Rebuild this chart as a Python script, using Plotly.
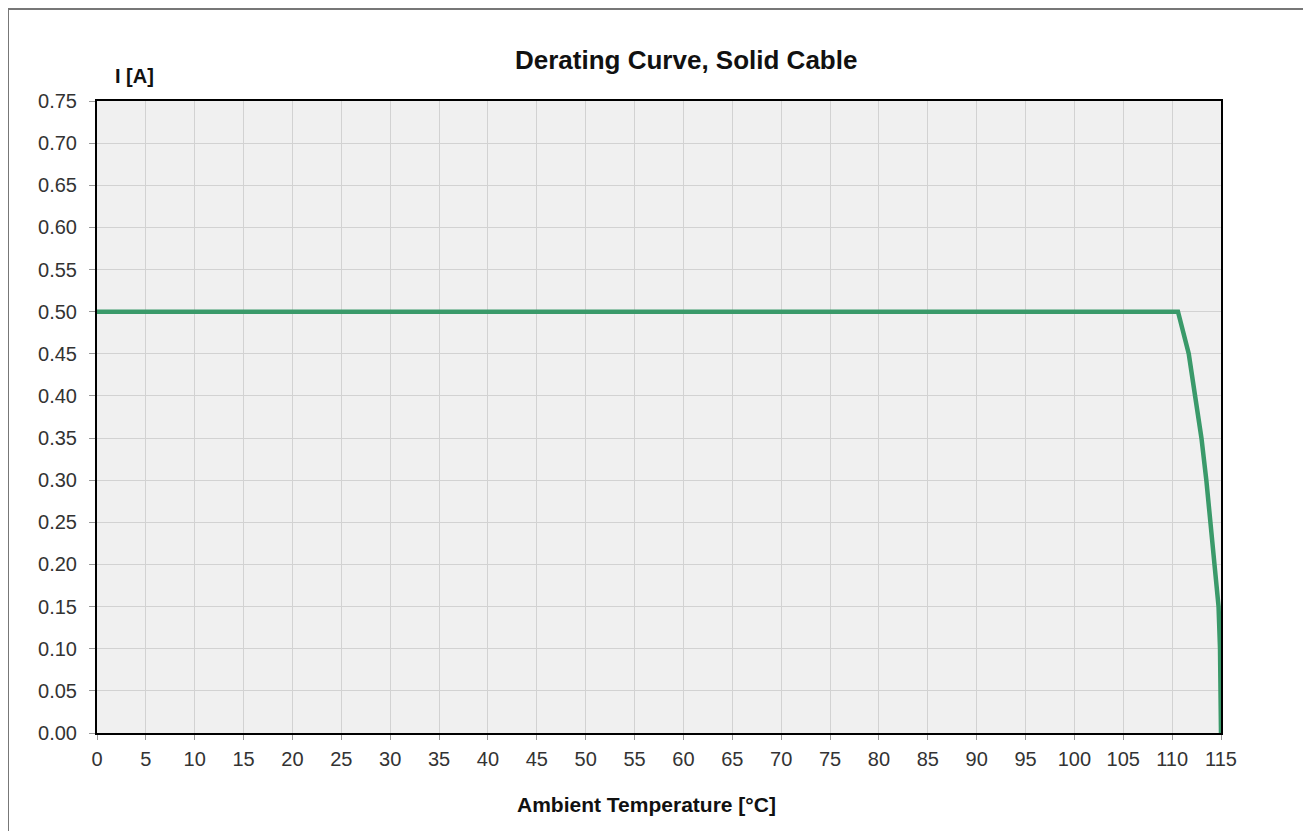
import plotly.graph_objects as go

temperature = [0, 110.6, 111.7, 112.4, 113.0, 113.5, 113.95, 114.4, 114.75, 114.9, 115.0, 115.0]
current = [0.50, 0.50, 0.45, 0.40, 0.35, 0.30, 0.25, 0.20, 0.15, 0.10, 0.05, 0.0]
x_ticks = list(range(0, 116, 5))
y_ticks = [round(i * 0.05, 2) for i in range(16)]

OFF = 8  # page body margin
W, H = 1311 - OFF, 831 - OFF
# target pixel positions in the screenshot
PL, PR, PT, PB = 97, 1221, 101, 733
L, R, T, B = PL - OFF, W - (PR - OFF), PT - OFF, H - (PB - OFF)
pw, ph = W - L - R, H - T - B

def px(xp):
    return (xp - OFF - L) / pw

def py(yp):
    return (PB - yp) / ph

fig = go.Figure()
fig.add_trace(go.Scatter(x=temperature, y=current, mode="lines",
                         line=dict(color="#3a9a6a", width=4.5), showlegend=False,
                         cliponaxis=False))

font = "Liberation Sans, Arial, sans-serif"
fig.update_layout(
    width=W, height=H,
    margin=dict(l=L, r=R, t=T, b=B),
    paper_bgcolor="white", plot_bgcolor="#f0f0f0",
    font=dict(family=font, color="#333333", size=20),
    xaxis=dict(range=[0, 115], tickvals=x_ticks, ticktext=[str(v) for v in x_ticks],
               showgrid=True, gridcolor="#d2d2d2", gridwidth=1,
               showline=True, linecolor="black", linewidth=2, mirror=True,
               ticks="outside", ticklen=5, tickcolor="#999999", zeroline=False,
               ticklabelstandoff=2,
               tickfont=dict(size=20, color="#333333")),
    yaxis=dict(range=[0, 0.75], tickvals=y_ticks, ticktext=[f"{v:.2f}" for v in y_ticks],
               showgrid=True, gridcolor="#d2d2d2", gridwidth=1,
               showline=True, linecolor="black", linewidth=2, mirror=True,
               ticks="outside", ticklen=6, tickcolor="#999999", zeroline=False,
               ticklabelstandoff=8,
               tickfont=dict(size=20, color="#333333")),
    shapes=[dict(type="rect", xref="paper", yref="paper",
                 x0=px(8), x1=px(1310), y0=py(9), y1=py(845),
                 line=dict(color="#777777", width=2), fillcolor="rgba(0,0,0,0)", layer="below")],
    annotations=[
        dict(text="<b>Derating Curve, Solid Cable</b>", xref="paper", yref="paper",
             x=px(686), y=py(60), xanchor="center", yanchor="middle", showarrow=False,
             font=dict(size=26, color="#111111", family=font)),
        dict(text="<b>I [A]</b>", xref="paper", yref="paper",
             x=px(134), y=py(76), xanchor="center", yanchor="middle", showarrow=False,
             font=dict(size=20, color="#111111", family=font)),
        dict(text="<b>Ambient Temperature [°C]</b>", xref="paper", yref="paper",
             x=px(646), y=py(804), xanchor="center", yanchor="middle", showarrow=False,
             font=dict(size=21, color="#111111", family=font)),
    ],
)

fig.write_html("out.html")
